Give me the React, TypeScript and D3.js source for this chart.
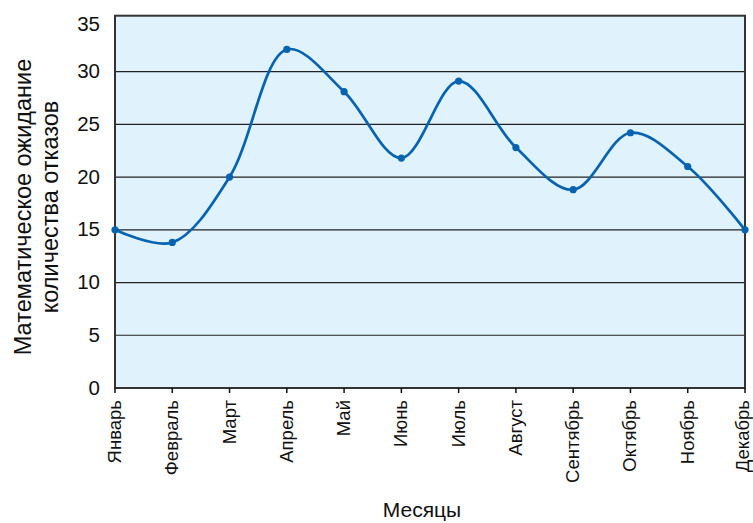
import React from "react";
import * as d3 from "d3";

const months = ["Январь", "Февраль", "Март", "Апрель", "Май", "Июнь", "Июль", "Август", "Сентябрь", "Октябрь", "Ноябрь", "Декабрь"];
const values = [15, 13.8, 20, 32.1, 28.1, 21.8, 29.1, 22.8, 18.8, 24.2, 21.0, 15.0];
const yTicks = [0, 5, 10, 15, 20, 25, 30, 35];
const xTitle = "Месяцы";
const yTitle = ["Математическое ожидание", "количества отказов"];

const W = 753, H = 523;
const left = 115, right = 745, top = 15.7, bottom = 388;
const font = "'Liberation Sans', Arial, sans-serif";

export default function App() {
  const x = d3.scalePoint<string>().domain(months).range([left, right]);
  const y = d3.scaleLinear().domain([0, 35.3]).range([bottom, top]);
  const line = d3.line<number>()
    .x((_, i) => x(months[i]) as number)
    .y((d) => y(d))
    .curve(d3.curveCatmullRom.alpha(0.5));
  return (
    <svg width={W} height={H} style={{ position: "absolute", left: 0, top: 0 }} xmlns="http://www.w3.org/2000/svg">
      <rect x={left} y={top} width={right - left} height={bottom - top} fill="#E0F2FC" />
      {yTicks.filter((t) => t > 0 && t < 35).map((t) => (
        <line key={t} x1={left} x2={right} y1={y(t)} y2={y(t)} stroke="#222" strokeWidth={1.2} />
      ))}
      <rect x={left} y={top} width={right - left} height={bottom - top} fill="none" stroke="#333" strokeWidth={2} />
      {months.map((m) => (
        <line key={m} x1={x(m)} x2={x(m)} y1={bottom} y2={bottom + 5} stroke="#111" strokeWidth={1.5} />
      ))}
      {yTicks.map((t) => (
        <text key={t} x={100} y={t === 35 ? y(t) + 6 : y(t)} dy="0.32em" textAnchor="end" fontFamily={font} fontSize={20.5} fill="#111">{t}</text>
      ))}
      {months.map((m, i) => (
        <text key={m} transform={`translate(${(x(m) as number) - (i === months.length - 1 ? 2 : 0.5)},400) rotate(-90)`} textAnchor="end" dy="0.35em" fontFamily={font} fontSize={18.5} fill="#111">{m}</text>
      ))}
      <text x={422} y={517} textAnchor="middle" fontFamily={font} fontSize={21} fill="#111">{xTitle}</text>
      {yTitle.map((t, i) => (
        <text key={t} transform={`translate(${23 + i * 27},207) rotate(-90)`} textAnchor="middle" dy="0.35em" fontFamily={font} fontSize={23.5} fill="#111">{t}</text>
      ))}
      <path d={line(values) || ""} fill="none" stroke="#0563B0" strokeWidth={2.7} />
      {values.map((v, i) => (
        <circle key={i} cx={x(months[i])} cy={y(v)} r={3.6} fill="#0563B0" />
      ))}
    </svg>
  );
}
